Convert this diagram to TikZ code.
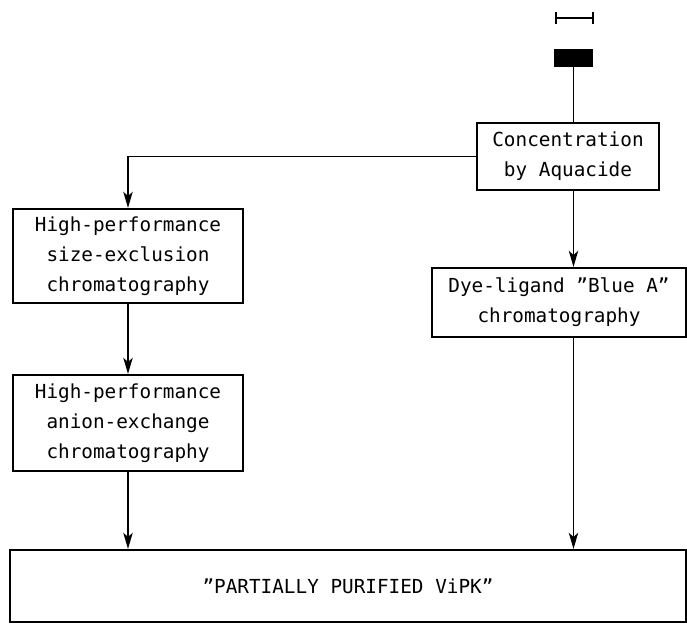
\documentclass[tikz,border=0pt]{standalone}
\usepackage{fontspec}
\setmonofont{DejaVu Sans Mono}
\usetikzlibrary{arrows.meta}
\begin{document}
\begin{tikzpicture}[x=0.75pt,y=-0.75pt,
  box/.style={draw,line width=1.6pt,align=center,inner sep=0pt,
    font=\ttfamily\fontsize{14.5}{22.5}\selectfont},
  conn/.style={line width=1.4pt},
  arr/.style={conn,-{Stealth[length=12pt,width=7pt,inset=3pt]}}]
\useasboundingbox (0,0) rectangle (687,627);
% scale bar
\draw[line width=1.3pt] (556,18) -- (593,18);
\draw[line width=1.3pt] (556,12) -- (556,24) (593,12) -- (593,24);
\node[fill=black,minimum width=29pt,minimum height=13.5pt,inner sep=0pt] (bar) at (573.5,58) {};
\node[box,minimum width=136.5pt,minimum height=50pt] (conc) at (568,156.5) {Concentration\\by Aquacide};
\node[box,minimum width=172pt,minimum height=70.5pt] (hpsec) at (128,256) {High-performance\\size-exclusion\\chromatography};
\node[box,minimum width=172pt,minimum height=72pt] (hpaec) at (128,423) {High-performance\\anion-exchange\\chromatography};
\node[box,minimum width=190.5pt,minimum height=51.75pt] (dye) at (559,302.5) {Dye-ligand ”Blue A”\\chromatography};
\node[box,minimum width=507pt,minimum height=54pt] (fin) at (348,586) {”PARTIALLY PURIFIED ViPK”};
\draw[conn] (bar.south) -- (bar.south |- conc.north);
\draw[arr] (conc.west) -| (hpsec.north);
\draw[arr] (hpsec.south) -- (hpaec.north);
\draw[arr] (hpaec.south) -- (hpaec.south |- fin.north);
\draw[arr] (bar.south |- conc.south) -- (bar.south |- dye.north);
\draw[arr] (bar.south |- dye.south) -- (bar.south |- fin.north);
\end{tikzpicture}
\end{document}
